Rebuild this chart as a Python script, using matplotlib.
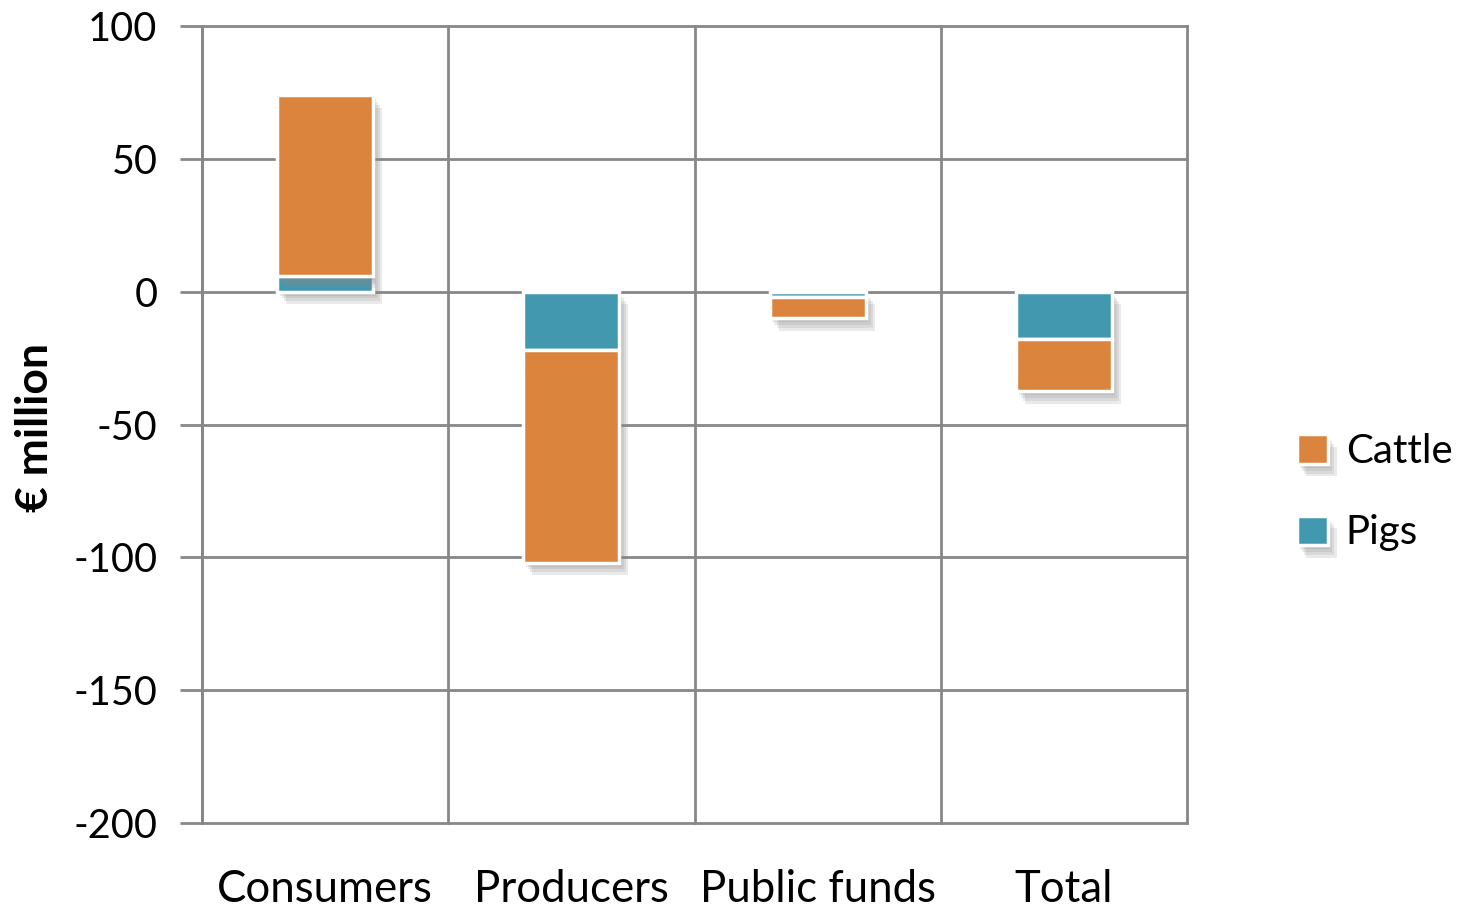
import matplotlib
matplotlib.use("Agg")
import matplotlib.pyplot as plt
import matplotlib.patheffects as pe
import numpy as np

categories = ["Consumers", "Producers", "Public funds", "Total"]
pigs = [6, -22, -2, -18]
cattle = [68, -80, -8, -19.5]
yticks = [100, 50, 0, -50, -100, -150, -200]

c_cattle = "#DB843D"
c_pigs = "#4298AF"
grid_c = "#878787"

plt.rcParams["font.family"] = ["Lato", "DejaVu Sans"]

fig = plt.figure(figsize=(14.6, 9.08), dpi=100)
ax = fig.add_axes([202 / 1460, 1 - 823 / 908, (1187 - 202) / 1460, (823 - 26) / 908])

x = np.arange(len(categories))
# soft drop shadow built from a few offset layers
shadow = [pe.SimplePatchShadow(offset=(o, -1.4 * o), shadow_rgbFace="#8c8c8c", alpha=0.18)
          for o in (2, 3.5, 5, 6.5)] + [pe.Normal()]

b1 = ax.bar(x, pigs, width=0.39, color=c_pigs, edgecolor="white", linewidth=2.5,
            label="Pigs", zorder=3)
b2 = ax.bar(x, cattle, width=0.39, bottom=pigs, color=c_cattle, edgecolor="white",
            linewidth=2.5, label="Cattle", zorder=3)
for bars in (b1, b2):
    for p in bars:
        p.set_path_effects(shadow)

ax.set_xlim(-0.5, len(categories) - 0.5)
ax.set_ylim(-200, 100)
ax.set_yticks(yticks)
ax.set_yticklabels([str(v) for v in yticks], fontsize=28.5)
ax.set_xticks(x)
ax.set_xticklabels(categories, fontsize=31.5)
ax.tick_params(axis="x", length=0, pad=33)
ax.tick_params(axis="y", length=16, width=2, color=grid_c, pad=16)

ax.set_xticks(np.arange(-0.5, len(categories) + 0.5, 1), minor=True)
ax.grid(True, which="major", axis="y", color=grid_c, linewidth=2, zorder=0)
ax.grid(True, which="minor", axis="x", color=grid_c, linewidth=2, zorder=0)
ax.tick_params(axis="x", which="minor", length=0)
for t in ax.yaxis.get_major_ticks() + ax.xaxis.get_minor_ticks():
    t.gridline.set_clip_on(False)

for s in ("top", "right", "bottom"):
    ax.spines[s].set_visible(False)
ax.spines["left"].set_color(grid_c)
ax.spines["left"].set_linewidth(2)

fig.text(35 / 1460, 1 - 428 / 908, "€ million", rotation=90, fontsize=32,
         fontweight="bold", ha="center", va="center")

leg = ax.legend(handles=[b2, b1], labels=["Cattle", "Pigs"], loc="center left",
                bbox_to_anchor=(1.112, 0.415), frameon=False, fontsize=29,
                borderaxespad=0, borderpad=0,
                handlelength=0.75, handleheight=0.75, handletextpad=0.45,
                labelspacing=1.1)

fig.savefig("out.png", dpi=100)
